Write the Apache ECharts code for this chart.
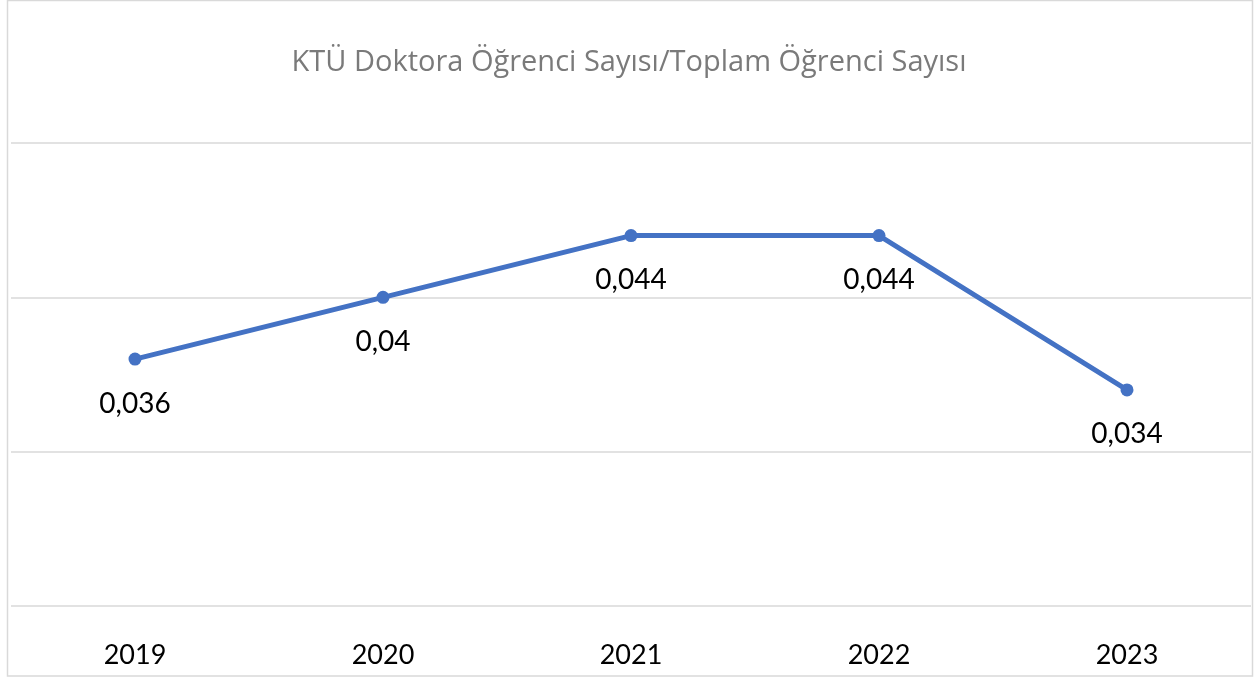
<!DOCTYPE html>
<html>
<head>
<meta charset="utf-8">
<script src="https://cdn.jsdelivr.net/npm/echarts@6/dist/echarts.min.js"></script>
<style>
  html, body { margin: 0; padding: 0; background: #fff; }
  #chart { width: 1258px; height: 678px; }
</style>
</head>
<body>
<div id="chart"></div>
<script>
const years = ['2019', '2020', '2021', '2022', '2023'];
const ratios = [0.036, 0.04, 0.044, 0.044, 0.034];

const chart = echarts.init(document.getElementById('chart'));
const font = 'Lato, "Noto Sans", sans-serif';

chart.setOption({
  animation: false,
  title: {
    text: 'KTÜ Doktora Öğrenci Sayısı/Toplam Öğrenci Sayısı',
    left: 'center',
    top: 43,
    textStyle: { fontFamily: '"Open Sans", sans-serif', fontSize: 29, fontWeight: 'normal', color: '#7a7a7a' }
  },
  graphic: [{
    type: 'rect',
    shape: { x: 7.5, y: 0.5, width: 1245, height: 675.5 },
    style: { fill: 'none', stroke: '#d9d9d9', lineWidth: 1.5 },
    silent: true
  }],
  grid: { left: 11, right: 7, top: 143, bottom: 72 },
  xAxis: {
    type: 'category',
    data: years,
    boundaryGap: true,
    axisLine: { show: false },
    axisTick: { show: false },
    axisLabel: { margin: 36, fontFamily: font, fontSize: 27, color: '#000' }
  },
  yAxis: {
    type: 'value',
    min: 0.02,
    max: 0.05,
    interval: 0.01,
    axisLabel: { show: false },
    axisLine: { show: false },
    axisTick: { show: false },
    splitLine: { lineStyle: { color: '#d9d9d9', width: 1.5 } }
  },
  series: [{
    type: 'line',
    data: ratios,
    symbol: 'circle',
    symbolSize: 13,
    lineStyle: { color: '#4472C4', width: 5 },
    itemStyle: { color: '#4472C4' },
    label: {
      show: true,
      position: 'bottom',
      distance: 24,
      fontFamily: font,
      fontSize: 28,
      color: '#000',
      formatter: p => String(p.value).replace('.', ',')
    }
  }]
});
</script>
</body>
</html>
